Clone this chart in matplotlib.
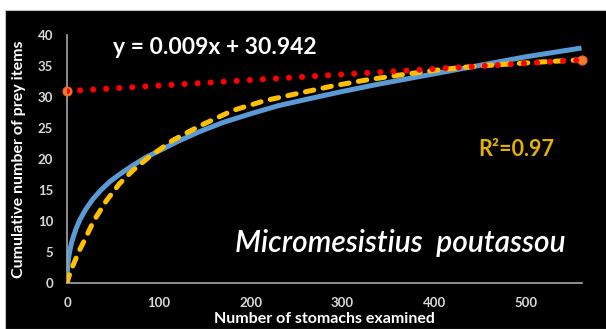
import matplotlib
matplotlib.use("Agg")
import matplotlib.pyplot as plt
from matplotlib.patches import Rectangle

plt.rcParams['font.family'] = ['Lato', 'DejaVu Sans']

# observed cumulative curve (yellow dashed)
obs_x = [0, 2, 5, 9, 14, 20, 29, 43, 57, 72, 90, 115, 144, 180, 215, 252, 290, 324, 360, 400, 440, 469, 510, 560]
obs_y = [0, 1.0, 2.3, 3.7, 5.4, 7.2, 10.0, 13.3, 16.0, 18.2, 20.4, 23.0, 25.3, 27.8, 29.4, 30.6, 31.8, 32.7,
         33.5, 34.3, 34.9, 35.2, 35.6, 36.0]

# fitted curve (blue)
fit_x = [0, 0.5, 1.5, 3, 5, 7, 10, 14, 20, 28, 37, 47, 58, 70, 85, 100, 120, 144, 170, 200, 230, 260,
         300, 340, 380, 420, 460, 500, 530, 560]
fit_y = [0.5, 2.2, 3.8, 5.2, 6.5, 7.5, 8.8, 10.2, 11.8, 13.5, 15.0, 16.4, 17.6, 18.8, 20.2, 21.3, 22.8,
         24.4, 25.9, 27.3, 28.6, 29.6, 30.9, 32.1, 33.2, 34.3, 35.4, 36.5, 37.2, 37.9]

# linear trend  y = 0.009x + 30.942
trend_x = [0, 560]
trend_y = [30.94, 35.98]

xticks = [0, 100, 200, 300, 400, 500]
yticks = [0, 5, 10, 15, 20, 25, 30, 35, 40]

fig = plt.figure(figsize=(6.06, 3.29), dpi=100)
fig.patch.set_facecolor('white')
fig.patches.append(Rectangle((5 / 606, 0), 1, 1 - 10 / 329, transform=fig.transFigure,
                             facecolor='black', edgecolor='#bfbfbf', lw=0.8, zorder=-10))

ax = fig.add_axes([67 / 606, 1 - 283 / 329, (581.5 - 67) / 606, (283 - 35) / 329])
ax.set_zorder(1)
ax.set_facecolor('black')

ax.plot(fit_x, fit_y, color='#5B9BD5', lw=3.6, solid_capstyle='butt', solid_joinstyle='round', zorder=2)
ax.plot(obs_x, obs_y, color='#FFC000', lw=3.6, dashes=(1.7, 1.9), dash_capstyle='round', zorder=3)
ax.plot(trend_x, trend_y, ls='none', marker='o', ms=6.5, mfc='#ED7D31', mec='#F26522', mew=0.8,
        zorder=4, clip_on=False)
ax.plot(trend_x, trend_y, color='#FF0000', lw=4.4, dashes=(0.01, 2.13), dash_capstyle='round', zorder=5)

ax.set_xlim(0, 560)
ax.set_ylim(0, 40)
ax.set_xticks(xticks)
ax.set_yticks(yticks)
ax.tick_params(length=0, colors='#d9d9d9', labelsize=9.5, pad=10)
for lab in ax.get_xticklabels() + ax.get_yticklabels():
    lab.set_fontweight('bold')
for s in ['top', 'right']:
    ax.spines[s].set_visible(False)
for s in ['left', 'bottom']:
    ax.spines[s].set_color('#a6a6a6')
    ax.spines[s].set_linewidth(1.2)

ax.set_xlabel('Number of stomachs examined', color='white', fontsize=11.5, fontweight='bold', labelpad=2)
ax.set_ylabel('Cumulative number of prey items', color='white', fontsize=11.5, fontweight='bold', labelpad=8)

fig.text(113 / 606, 1 - 47 / 329, 'y = 0.009x + 30.942', color='white', fontsize=16.5,
         fontweight='bold', va='center', ha='left')
fig.text(478 / 606, 1 - 149 / 329, 'R²=0.97', color='#E6B000', fontsize=15.5,
         fontweight='bold', va='center', ha='left')
fig.text(235 / 606, 1 - 243 / 329, 'Micromesistius  poutassou', color='white', fontsize=21.5,
         fontstyle='italic', fontweight='semibold', va='center', ha='left')

fig.savefig('out.png', dpi=100, facecolor=fig.get_facecolor())
